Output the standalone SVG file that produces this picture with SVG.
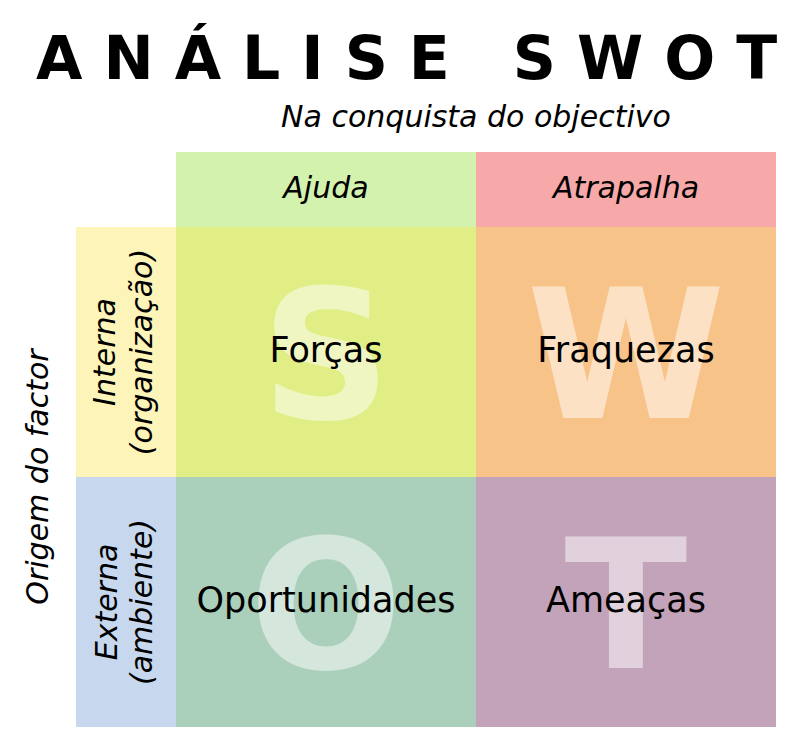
<svg xmlns="http://www.w3.org/2000/svg" width="800" height="750" viewBox="0 0 800 750">
<style>
text{font-family:"DejaVu Sans",sans-serif;fill:#000}
.it{font-style:italic;font-size:30px}
.lab{font-size:35px;text-anchor:middle}
.big{font-size:180px;font-weight:bold;fill:#fff;fill-opacity:0.5;text-anchor:middle}
.c{text-anchor:middle}
</style>
<rect width="800" height="750" fill="#fff"/>
<g id="title">
<text x="36" y="79" font-size="60" font-weight="bold" letter-spacing="21">ANÁLISE SWOT</text>
<text class="it c" x="476" y="127">Na conquista do objectivo</text>
</g>
<g id="ajuda"><rect x="176" y="152" width="300" height="75" fill="#d3f2ae"/><text class="it c" x="326" y="198">Ajuda</text></g>
<g id="atrapalha"><rect x="476" y="152" width="300" height="75" fill="#f7a8a8"/><text class="it c" x="626" y="198">Atrapalha</text></g>
<g id="interna"><rect x="76" y="227" width="100" height="250" fill="#fdf4b9"/>
<text class="it c" transform="translate(115,352) rotate(-90)">Interna</text>
<text class="it c" transform="translate(152,352) rotate(-90)">(organização)</text></g>
<g id="externa"><rect x="76" y="477" width="100" height="250" fill="#c7d7ed"/>
<text class="it c" transform="translate(117,602) rotate(-90)">Externa</text>
<text class="it c" transform="translate(152,602) rotate(-90)">(ambiente)</text></g>
<g id="origem"><text class="it c" transform="translate(48,477) rotate(-90)">Origem do factor</text></g>
<g id="forcas"><rect x="176" y="227" width="300" height="250" fill="#e1ed85"/><text class="big" x="326" y="418">S</text><text class="lab" x="326" y="362">Forças</text></g>
<g id="fraquezas"><rect x="476" y="227" width="300" height="250" fill="#f8c388"/><text class="big" x="626" y="418">W</text><text class="lab" x="626" y="362">Fraquezas</text></g>
<g id="oportunidades"><rect x="176" y="477" width="300" height="250" fill="#aacfba"/><text class="big" x="326" y="668">O</text><text class="lab" x="326" y="612">Oportunidades</text></g>
<g id="ameacas"><rect x="476" y="477" width="300" height="250" fill="#c3a3b9"/><text class="big" x="626" y="668">T</text><text class="lab" x="626" y="612">Ameaças</text></g>
<g id="connectors"/>
</svg>
